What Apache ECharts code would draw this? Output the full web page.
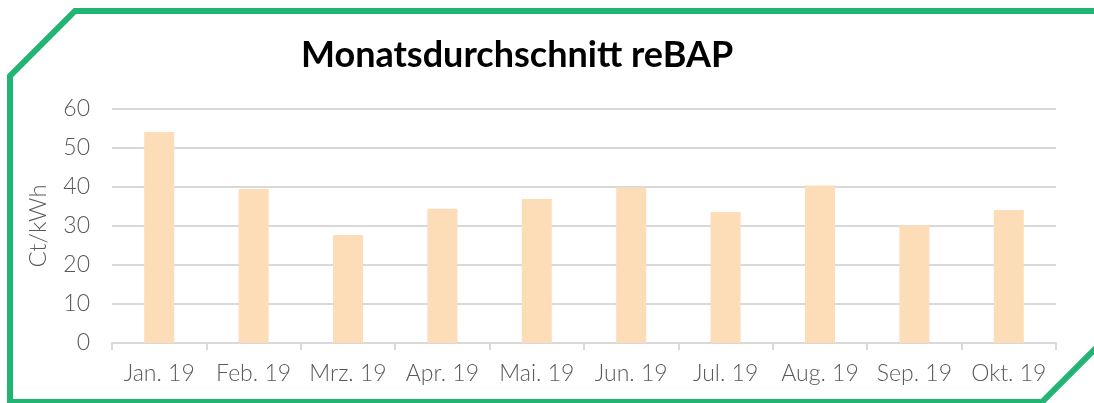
<!DOCTYPE html>
<html>
<head>
<meta charset="utf-8">
<title>Monatsdurchschnitt reBAP</title>
<script src="https://cdn.jsdelivr.net/npm/echarts@6/dist/echarts.min.js"></script>
<style>
  html, body { margin: 0; padding: 0; background: #fff; }
  #chart { width: 1094px; height: 403px; }
</style>
</head>
<body>
<div id="chart"></div>
<script>
// Daten
const months = ['Jan. 19', 'Feb. 19', 'Mrz. 19', 'Apr. 19', 'Mai. 19', 'Jun. 19', 'Jul. 19', 'Aug. 19', 'Sep. 19', 'Okt. 19'];
const rebap = [54.1, 39.5, 27.7, 34.4, 36.9, 39.9, 33.6, 40.4, 30.2, 34.1];
const yTicks = [0, 10, 20, 30, 40, 50, 60];

const chart = echarts.init(document.getElementById('chart'), null, { renderer: 'canvas' });

const textColor = '#595959';
const green = '#20B573';

let option = {
  animation: false,
  backgroundColor: '#fff',
  title: {
    text: 'Monatsdurchschnitt reBAP',
    left: 296,
    top: 32,
    textStyle: {
      fontFamily: 'Lato',
      fontWeight: 'bold',
      fontSize: 36,
      color: '#000'
    }
  },
  grid: {
    left: 112,
    right: 38,
    top: 109,
    bottom: 60,
    containLabel: false
  },
  xAxis: {
    type: 'category',
    data: months,
    axisLine: { lineStyle: { color: '#D9D9D9', width: 2 } },
    axisTick: { show: true, interval: 0, length: 7, lineStyle: { color: '#D9D9D9', width: 2 } },
    axisLabel: {
      interval: 0,
      color: textColor,
      fontFamily: 'Lato',
      fontWeight: 300,
      fontSize: 23,
      margin: 19
    }
  },
  yAxis: {
    type: 'value',
    min: yTicks[0],
    max: yTicks[yTicks.length - 1],
    interval: 10,
    name: 'Ct/kWh',
    nameLocation: 'middle',
    nameGap: 62,
    nameTextStyle: {
      color: textColor,
      fontFamily: 'Lato',
      fontWeight: 300,
      fontSize: 24
    },
    axisLine: { show: false },
    axisTick: { show: false },
    axisLabel: {
      color: textColor,
      fontFamily: 'Lato',
      fontWeight: 300,
      fontSize: 23,
      margin: 22
    },
    splitLine: { lineStyle: { color: '#D9D9D9', width: 2 } }
  },
  series: [{
    type: 'bar',
    data: rebap,
    barWidth: 30,
    itemStyle: { color: '#FDDDB7' }
  }],
  // gruener Rahmen mit abgeschnittenen Ecken
  graphic: [{
    type: 'polyline',
    silent: true,
    shape: {
      points: [[1100, 11], [75, 11], [10, 76], [10, 402], [1042, 402], [1100, 344]]
    },
    style: {
      fill: null,
      stroke: green,
      lineWidth: 6,
      lineJoin: 'miter'
    },
    z: 100
  }]
};

chart.setOption(option);
</script>
</body>
</html>
